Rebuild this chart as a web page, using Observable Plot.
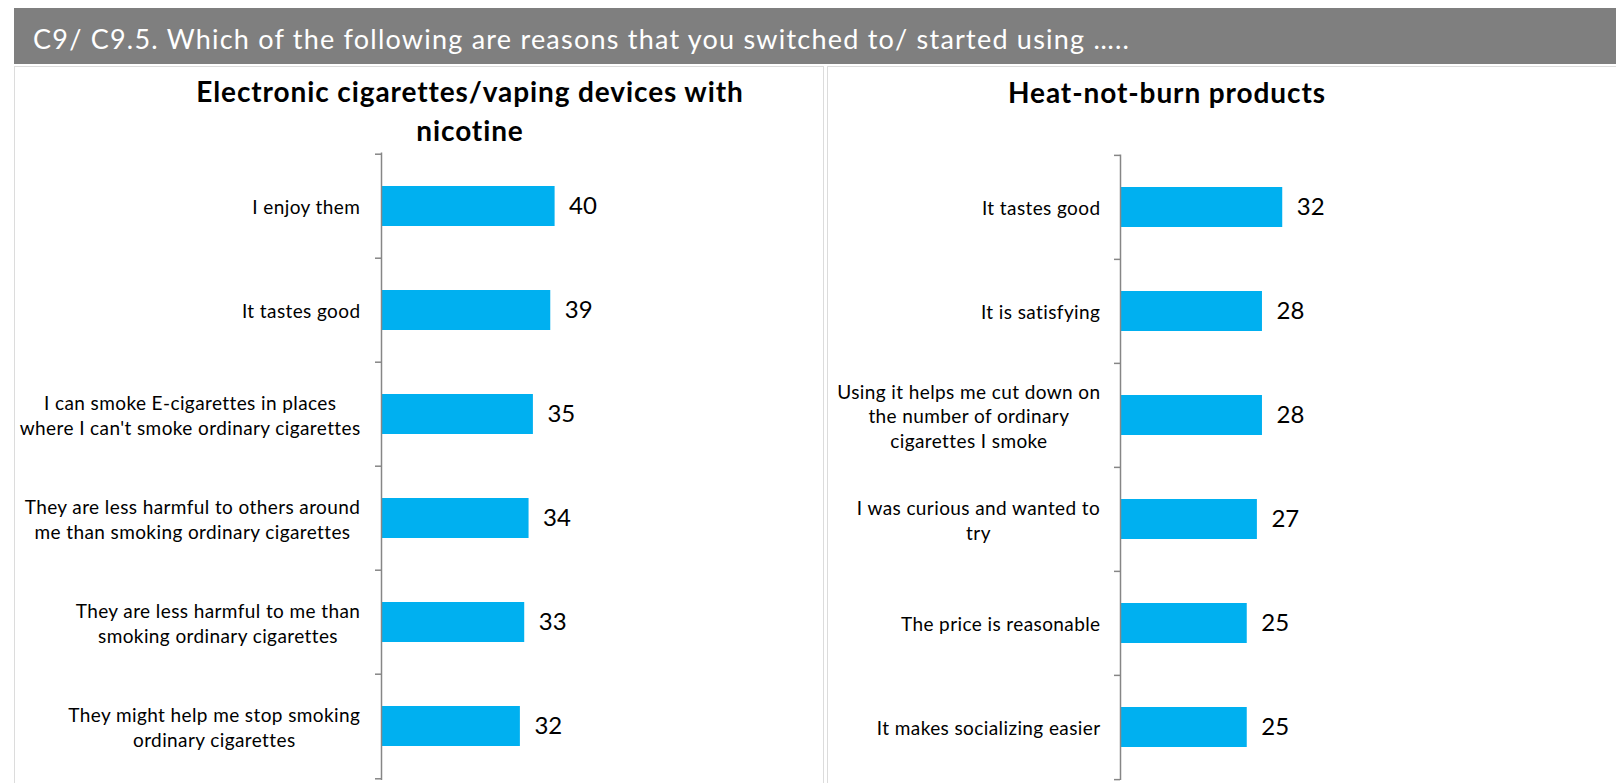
<!DOCTYPE html>
<html><head><meta charset="utf-8">
<script src="https://cdn.jsdelivr.net/npm/d3@7"></script>
<script src="https://cdn.jsdelivr.net/npm/@observablehq/plot@0.6"></script>
<style>
body{margin:0;background:#fff;width:1616px;height:783px;overflow:hidden;position:relative;font-family:Lato,"Open Sans",sans-serif;}
#hdr{position:absolute;left:14px;top:8px;width:1602px;height:56px;background:#7f7f7f;}
#hdrtext{position:absolute;left:33px;top:25px;color:#fff;font-size:27px;line-height:1;white-space:nowrap;letter-spacing:1.22px}
.panel{position:absolute;top:66px;height:730px;border:1.5px solid #dcdcdc;box-sizing:border-box;background:#fff}
#pl{left:14px;width:810px}
#pr{left:827px;width:800px}
.ttl{position:absolute;font-weight:bold;font-size:28px;color:#000;text-align:center;line-height:39px;white-space:nowrap;letter-spacing:0.9px}
.chart{position:absolute;}
</style></head>
<body>
<div id="hdr"></div>
<div id="hdrtext"></div>
<div class="panel" id="pl"></div>
<div class="panel" id="pr"></div>
<div class="ttl" id="tl" style="left:170px;width:600px;top:72px"></div>
<div class="ttl" id="tr" style="left:967px;width:400px;top:73px"></div>
<div class="chart" id="cl" style="left:14px;top:70px"></div>
<div class="chart" id="cr" style="left:827px;top:70px"></div>
<script>
const headerText = "C9/ C9.5. Which of the following are reasons that you switched to/ started using …..";
const leftTitle = "Electronic cigarettes/vaping devices with\nnicotine";
const rightTitle = "Heat-not-burn products";

const leftCategories = [
  "I enjoy them",
  "It tastes good",
  "I can smoke E-cigarettes in places\nwhere I can't smoke ordinary cigarettes",
  "They are less harmful to others around\nme than smoking ordinary cigarettes",
  "They are less harmful to me than\nsmoking ordinary cigarettes",
  "They might help me stop smoking\nordinary cigarettes"
];
const leftValues = [40, 39, 35, 34, 33, 32];

const rightCategories = [
  "It tastes good",
  "It is satisfying",
  "Using it helps me cut down on\nthe number of ordinary\ncigarettes I smoke",
  "I was curious and wanted to\ntry",
  "The price is reasonable",
  "It makes socializing easier"
];
const rightValues = [32, 28, 28, 27, 25, 25];

document.getElementById("hdrtext").textContent = headerText;
document.getElementById("tl").innerHTML = leftTitle.replace("\n", "<br>");
document.getElementById("tr").textContent = rightTitle;

const canvas = document.createElement("canvas");
const ctx = canvas.getContext("2d");
const LABEL_FONT = 19;
const LABEL_LS = 0.4;
ctx.font = `${LABEL_FONT}px Lato`;
function blockWidth(s) {
  return Math.max(...s.split("\n").map(l => ctx.measureText(l).width + LABEL_LS * l.length));
}

function panel(cats, vals, o) {
  const data = cats.map((c, i) => ({cat: c, val: vals[i]}));
  const step = (o.height - o.marginTop - o.marginBottom) / cats.length;
  const ppu = (o.width - o.marginLeft - o.marginRight) / o.xmax;
  const tick = 6 / ppu;
  const marks = [
    Plot.barX(data, {y: "cat", x: "val", fill: "#00b0f0"}),
    Plot.text(data, {y: "cat", x: "val", text: d => String(d.val), textAnchor: "start", dx: 14, fontSize: 24, fill: "#000"}),
    Plot.ruleX([0], {stroke: "#868686", strokeWidth: 1.5}),
    Plot.ruleY(cats, {y: d => d, x1: -tick, x2: 0, dy: -step / 2, stroke: "#868686", strokeWidth: 1.5}),
    Plot.ruleY([cats[cats.length - 1]], {y: d => d, x1: -tick, x2: 0, dy: step / 2, stroke: "#868686", strokeWidth: 1.5})
  ];
  data.forEach(d => {
    const w = blockWidth(d.cat);
    marks.push(Plot.text([d], {y: "cat", x: 0, text: "cat", textAnchor: "middle", dx: -(o.gap + w / 2), fontSize: LABEL_FONT, lineHeight: 1.3, fill: "#000"}));
  });
  const svg = Plot.plot({
    width: o.width, height: o.height,
    marginLeft: o.marginLeft, marginRight: o.marginRight, marginTop: o.marginTop, marginBottom: o.marginBottom,
    x: {domain: [0, o.xmax], axis: null},
    y: {domain: cats, axis: null, paddingInner: 0.62, paddingOuter: 0.31},
    style: {background: "transparent", fontFamily: "Lato, 'Open Sans', sans-serif", overflow: "visible"},
    marks
  });
  return svg;
}

const L = panel(leftCategories, leftValues, {
  width: 810, height: 713, marginLeft: 367, marginRight: 9, marginTop: 82.5, marginBottom: 3, xmax: 100, gap: 21
});
const R = panel(rightCategories, rightValues, {
  width: 789, height: 713, marginLeft: 293, marginRight: 90.4, marginTop: 84.5, marginBottom: 3, xmax: 80, gap: 20
});
document.getElementById("cl").append(L);
document.getElementById("cr").append(R);
for (const svg of [L, R]) {
  svg.querySelectorAll("g[aria-label='text']").forEach(g => {
    if (g.getAttribute("font-size") == String(LABEL_FONT)) g.setAttribute("letter-spacing", LABEL_LS + "px");
  });
}
</script>
</body></html>
